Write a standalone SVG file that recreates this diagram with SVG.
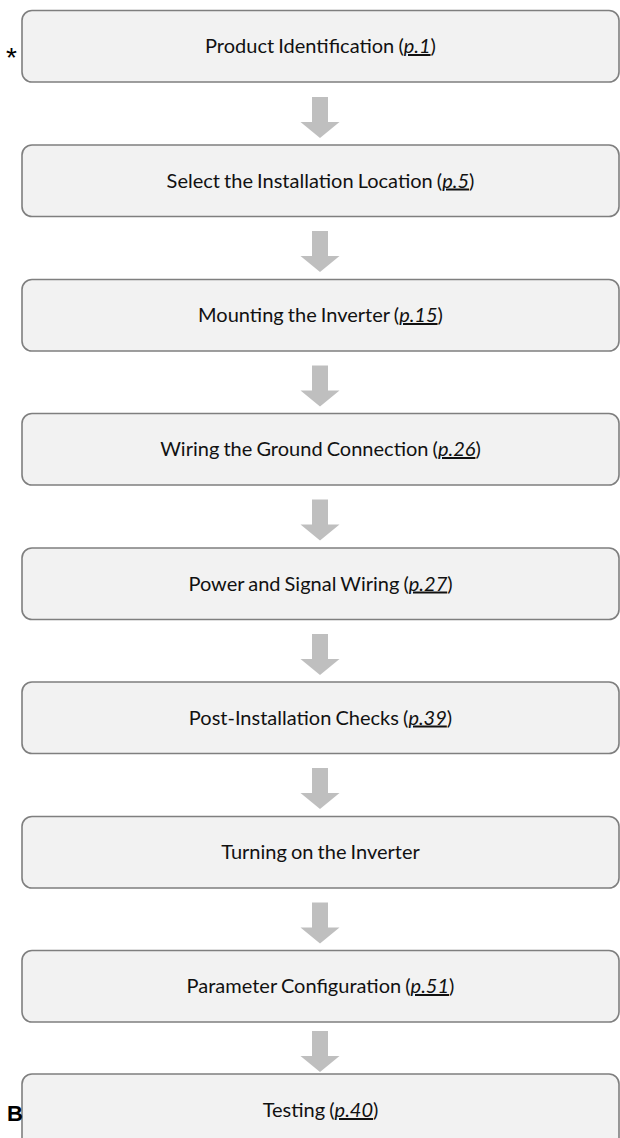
<svg xmlns="http://www.w3.org/2000/svg" width="620" height="1138" viewBox="0 0 620 1138">
  <style>
    .step rect { fill: #f2f2f2; stroke: #7f7f7f; stroke-width: 1.6; }
    .step text { font-family: Lato, "Open Sans", sans-serif; font-size: 20px; word-spacing: -1px; fill: #111; text-anchor: middle; }
    .ref { font-style: italic; text-decoration: underline; }
    .flow { fill: #bfbfbf; }
    .mark { font-family: "Liberation Sans", Arial, sans-serif; fill: #000; }
  </style>
  <defs>
    <!-- block arrow pointing down, origin at the top of the shaft -->
    <path id="down" d="M -8 0 H 8 V 25 H 19.5 L 0 41 L -19.5 25 H -8 Z"/>
  </defs>

  <g id="step-1" class="step">
    <rect x="22" y="10.5" width="597" height="71.5" rx="10"/>
    <text x="320.5" y="53">Product Identification (<tspan class="ref">p.1</tspan>)</text>
  </g>
  <g id="step-2" class="step">
    <rect x="22" y="145" width="597" height="71.5" rx="10"/>
    <text x="320.5" y="187.5">Select the Installation Location (<tspan class="ref">p.5</tspan>)</text>
  </g>
  <g id="step-3" class="step">
    <rect x="22" y="279.5" width="597" height="71.5" rx="10"/>
    <text x="320.5" y="322">Mounting the Inverter (<tspan class="ref">p.15</tspan>)</text>
  </g>
  <g id="step-4" class="step">
    <rect x="22" y="413.5" width="597" height="71.5" rx="10"/>
    <text x="320.5" y="456" word-spacing="-2">Wiring the Ground Connection (<tspan class="ref">p.26</tspan>)</text>
  </g>
  <g id="step-5" class="step">
    <rect x="22" y="548" width="597" height="71.5" rx="10"/>
    <text x="320.5" y="590.5" word-spacing="-2">Power and Signal Wiring (<tspan class="ref">p.27</tspan>)</text>
  </g>
  <g id="step-6" class="step">
    <rect x="22" y="682" width="597" height="71.5" rx="10"/>
    <text x="320.5" y="724.5" word-spacing="-2">Post-Installation Checks (<tspan class="ref">p.39</tspan>)</text>
  </g>
  <g id="step-7" class="step">
    <rect x="22" y="816.5" width="597" height="71.5" rx="10"/>
    <text x="320.5" y="859">Turning on the Inverter</text>
  </g>
  <g id="step-8" class="step">
    <rect x="22" y="950.5" width="597" height="71.5" rx="10"/>
    <text x="320.5" y="993" word-spacing="-2">Parameter Configuration (<tspan class="ref">p.51</tspan>)</text>
  </g>
  <g id="step-9" class="step">
    <rect x="22" y="1074" width="597" height="80" rx="10"/>
    <text x="320.5" y="1117">Testing (<tspan class="ref">p.40</tspan>)</text>
  </g>

  <g id="connectors" class="flow">
    <use href="#down" x="320" y="97"/>
    <use href="#down" x="320" y="231"/>
    <use href="#down" x="320" y="365.5"/>
    <use href="#down" x="320" y="499.5"/>
    <use href="#down" x="320" y="634"/>
    <use href="#down" x="320" y="768"/>
    <use href="#down" x="320" y="902.5"/>
    <use href="#down" x="320" y="1031"/>
  </g>

  <text class="mark" x="6" y="67" font-size="28">*</text>
  <text class="mark" x="7" y="1121" font-size="22" font-weight="bold">B</text>
</svg>
